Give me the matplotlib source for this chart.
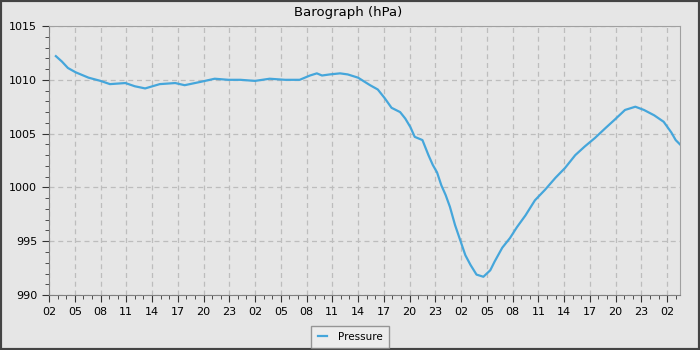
import matplotlib
matplotlib.use("Agg")
import matplotlib.pyplot as plt
from matplotlib.ticker import MultipleLocator, FuncFormatter
from matplotlib.patches import Rectangle

# hours since 02:00 on the first day, and pressure (hPa)
hours = [0.8, 1.5, 2.2, 3.1, 4.6, 6.0, 7.1, 8.9, 10.0, 11.2, 12.9, 14.7, 15.8,
         17.6, 19.3, 20.9, 22.3, 24.0, 25.7, 27.5, 29.2, 30.4, 31.2, 31.8, 32.7,
         33.9, 34.8, 36.0, 37.4, 38.3, 39.1, 39.9, 40.9, 41.5, 42.1, 42.6, 43.5,
         44.2, 44.7, 45.2, 45.7, 46.2, 46.7, 47.3, 47.9, 48.5, 49.1, 49.8, 50.6,
         51.4, 51.9, 52.8, 53.7, 54.5, 55.5, 56.6, 57.8, 59.0, 60.1, 61.3, 62.4,
         63.6, 64.8, 65.9, 67.1, 68.3, 69.3, 70.5, 71.6, 72.5, 73.0, 73.5]
pressure = [1012.2, 1011.7, 1011.1, 1010.7, 1010.2, 1009.9, 1009.6, 1009.7,
            1009.4, 1009.2, 1009.6, 1009.7, 1009.5, 1009.8, 1010.1, 1010.0,
            1010.0, 1009.9, 1010.1, 1010.0, 1010.0, 1010.4, 1010.6, 1010.4,
            1010.5, 1010.6, 1010.5, 1010.2, 1009.5, 1009.1, 1008.3, 1007.4,
            1007.0, 1006.4, 1005.6, 1004.7, 1004.4, 1003.0, 1002.1, 1001.4,
            1000.2, 999.3, 998.2, 996.5, 995.1, 993.7, 992.8, 991.9, 991.7,
            992.3, 993.1, 994.4, 995.3, 996.3, 997.4, 998.8, 999.8, 1000.9,
            1001.8, 1003.0, 1003.8, 1004.6, 1005.5, 1006.3, 1007.2, 1007.5,
            1007.2, 1006.7, 1006.1, 1005.1, 1004.4, 1004.0]
start_hour = 2

bg = "#e6e6e6"
fig = plt.figure(figsize=(7, 3.5), dpi=100, facecolor=bg)
ax = fig.add_axes([0.07, 0.157, 0.9014, 0.7687], facecolor=bg)

ax.plot(hours, pressure, color="#45a6db", linewidth=1.6, label="Pressure")

ax.set_xlim(0, 73.5)
ax.set_ylim(990, 1015)
ax.xaxis.set_major_locator(MultipleLocator(3))
ax.xaxis.set_minor_locator(MultipleLocator(1))
ax.xaxis.set_major_formatter(FuncFormatter(lambda v, p: f"{int(round(v + start_hour)) % 24:02d}"))
ax.yaxis.set_major_locator(MultipleLocator(5))
ax.yaxis.set_minor_locator(MultipleLocator(1))

ax.grid(True, which="major", color="#bdbdbd", linestyle=(0, (4, 3)), linewidth=0.9)
ax.tick_params(which="both", direction="out", colors="#333333", labelsize=8, labelcolor="black")
ax.tick_params(which="major", length=5)
ax.tick_params(which="minor", length=3)
for side in ["top", "right"]:
    ax.spines[side].set_color("#a0a0a0")
for side in ["left", "bottom"]:
    ax.spines[side].set_color("#808080")

fig.suptitle("Barograph (hPa)", x=0.498, y=0.965, fontsize=9.5, va="center")

leg = fig.legend(loc="center", bbox_to_anchor=(0.5, 0.037), fontsize=7.5,
                 frameon=True, fancybox=False, handlelength=0.9, borderpad=0.6,
                 handletextpad=1.0, borderaxespad=0)
leg.get_frame().set_facecolor("#eeeeee")
leg.get_frame().set_edgecolor("#808080")

fig.patches.append(Rectangle((0, 0), 1, 1, transform=fig.transFigure, fill=False,
                             edgecolor="#444444", linewidth=3))

fig.savefig("out.png", dpi=100, facecolor=bg)
